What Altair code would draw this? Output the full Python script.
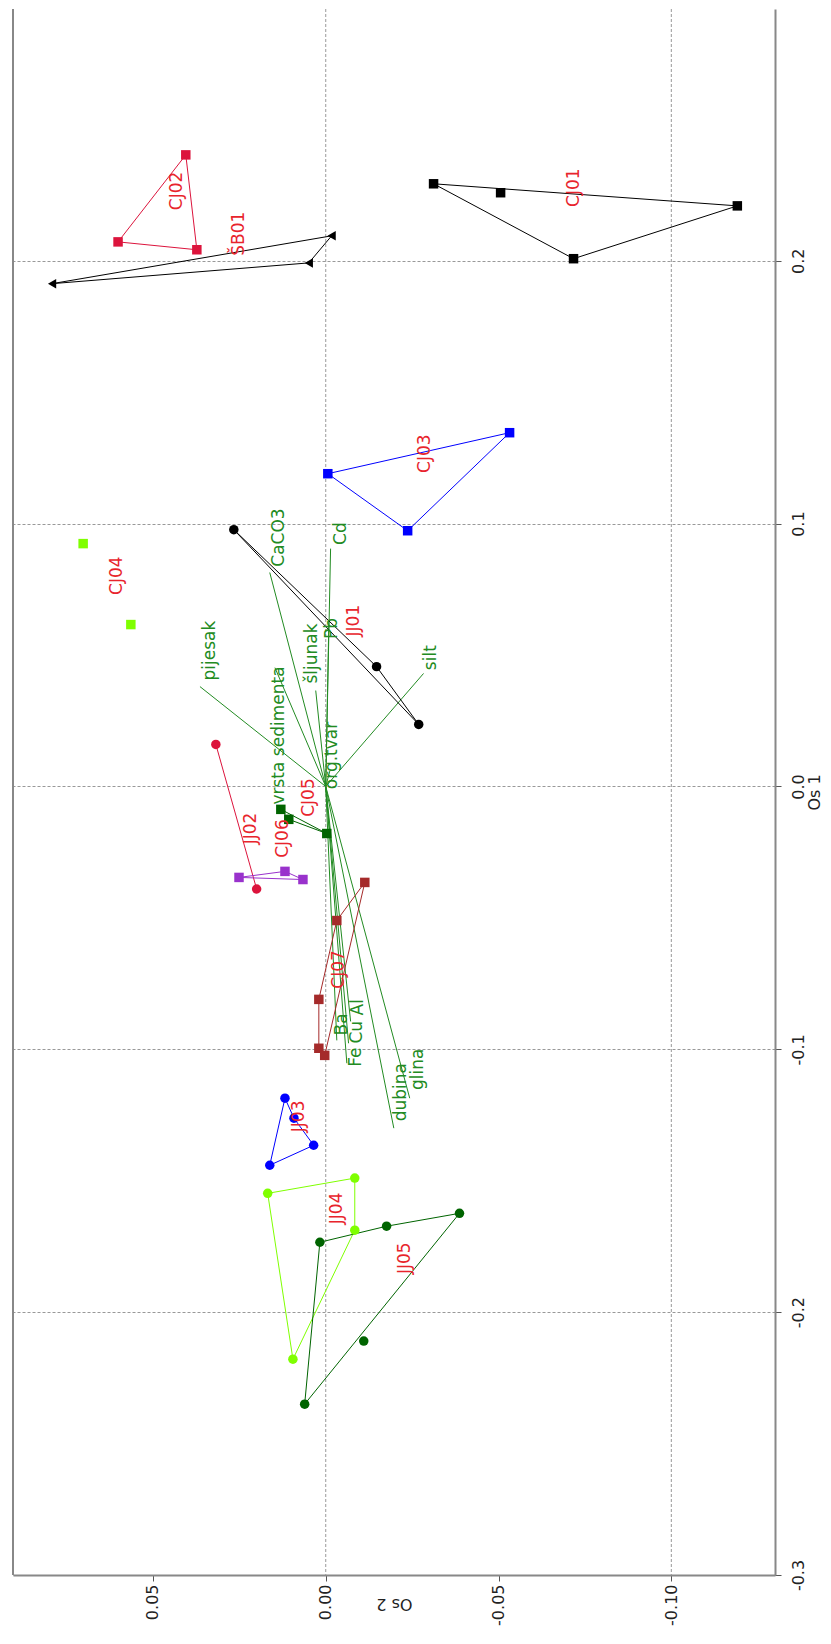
import altair as alt
import pandas as pd

# ---------------- data ----------------
groups = ["CJ01", "CJ02", "ŠB01", "CJ03", "JJ01", "CJ04", "CJ05",
          "JJ02", "CJ06", "CJ07", "JJ03", "JJ04", "JJ05"]
group_colors = ["#000000", "#DC143C", "#000000", "#0000FF", "#000000", "#7FFF00", "#006400",
                "#DC143C", "#9932CC", "#A52A2A", "#0000FF", "#7FFF00", "#006400"]
group_shapes = ["square", "square", "triangle-left", "square", "circle", "square", "square",
                "circle", "square", "square", "circle", "circle", "circle"]

# sample scores: Os 2 (axis 2) and Os 1 (axis 1) per group
os2_pts = {
    "CJ01": [-0.0312, -0.0506, -0.1191, -0.0717],
    "CJ02": [0.0405, 0.0601, 0.0373],
    "ŠB01": [-0.0017, 0.0049, 0.0792],
    "CJ03": [-0.0006, -0.0237, -0.0532],
    "JJ01": [0.0266, -0.0147, -0.0269],
    "CJ04": [0.0702, 0.0564],
    "CJ05": [0.0130, 0.0107, -0.0003],
    "JJ02": [0.0318, 0.0200],
    "CJ06": [0.0251, 0.0118, 0.0066],
    "CJ07": [-0.0113, -0.0032, 0.0020, 0.0020, 0.0003],
    "JJ03": [0.0118, 0.0092, 0.0035, 0.0162],
    "JJ04": [0.0168, -0.0084, -0.0084, 0.0095],
    "JJ05": [-0.0387, -0.0176, 0.0017, -0.0110, 0.0061],
}
os1_pts = {
    "CJ01": [0.2293, 0.2259, 0.2209, 0.2008],
    "CJ02": [0.2403, 0.2072, 0.2042],
    "ŠB01": [0.2095, 0.1992, 0.1913],
    "CJ03": [0.1190, 0.0973, 0.1346],
    "JJ01": [0.0977, 0.0456, 0.0236],
    "CJ04": [0.0924, 0.0616],
    "CJ05": [-0.0087, -0.0125, -0.0179],
    "JJ02": [0.0160, -0.0390],
    "CJ06": [-0.0346, -0.0323, -0.0354],
    "CJ07": [-0.0365, -0.0510, -0.0810, -0.0996, -0.1023],
    "JJ03": [-0.1186, -0.1262, -0.1365, -0.1441],
    "JJ04": [-0.1548, -0.1490, -0.1688, -0.2179],
    "JJ05": [-0.1624, -0.1673, -0.1734, -0.2110, -0.2350],
}
# envelope (hull) drawing order, indices into each group's points
hull_order = {
    "CJ01": [0, 2, 3, 0],
    "CJ02": [0, 1, 2, 0],
    "ŠB01": [2, 0, 1, 2],
    "CJ03": [0, 2, 1, 0],
    "JJ01": [0, 1, 2, 0],
    "CJ04": [],
    "CJ05": [0, 1, 2, 0],
    "JJ02": [0, 1],
    "CJ06": [0, 1, 2, 0],
    "CJ07": [2, 1, 0, 4, 3, 2],
    "JJ03": [3, 0, 1, 2, 3],
    "JJ04": [0, 1, 2, 3, 0],
    "JJ05": [4, 2, 1, 0, 4],
}
# group label positions (Os 2, Os 1)
label_os2 = [-0.0717, 0.0431, 0.0251, -0.0286, -0.0081, 0.0604, 0.0049,
             0.0217, 0.0124, -0.0038, 0.0078, -0.0032, -0.0228]
label_os1 = [0.2278, 0.2266, 0.2103, 0.1266, 0.0631, 0.0802, -0.0042,
             -0.0160, -0.0198, -0.0696, -0.1255, -0.1605, -0.1795]

# environmental variables (biplot arrows from origin)
env_names = ["CaCO3", "Cd", "Pb", "šljunak", "pijesak", "vrsta sedimenta", "silt",
             "org.tvar", "Ba", "Al", "Cu", "Fe", "dubina", "glina"]
env_os2 = [0.0162, -0.0014, -0.0009, 0.0029, 0.0364, 0.0147, -0.0283,
           -0.0012, -0.0032, -0.0072, -0.0066, -0.0061, -0.0197, -0.0243]
env_os1 = [0.0814, 0.0905, 0.0631, 0.0365, 0.0380, 0.0452, 0.0430,
           0.0060, -0.0966, -0.0894, -0.0977, -0.1053, -0.1300, -0.1186]
env_lab_os2 = [0.0136, -0.0043, -0.0017, 0.0040, 0.0335, 0.0136, -0.0306,
               -0.0017, -0.0046, -0.0092, -0.0090, -0.0088, -0.0217, -0.0266]
env_lab_os1 = [0.0947, 0.0962, 0.0601, 0.0506, 0.0517, 0.0194, 0.0490,
               0.0118, -0.0905, -0.0840, -0.0935, -0.1030, -0.1163, -0.1076]

x_ticks = [0.05, 0.0, -0.05, -0.10]
y_ticks = [0.2, 0.1, 0.0, -0.1, -0.2, -0.3]
x_grid = [0.0, -0.10]

# ---------------- tables ----------------
pts_rows, line_rows = [], []
for g in groups:
    for a, b in zip(os2_pts[g], os1_pts[g]):
        pts_rows.append({"group": g, "os2": a, "os1": b})
    for k, i in enumerate(hull_order[g]):
        line_rows.append({"group": g, "os2": os2_pts[g][i], "os1": os1_pts[g][i], "ord": k})
pts = pd.DataFrame(pts_rows)
lines = pd.DataFrame(line_rows)
labels = pd.DataFrame({"group": groups, "os2": label_os2, "os1": label_os1})
env = pd.DataFrame({"name": env_names, "os2": env_os2, "os1": env_os1,
                    "lx": env_lab_os2, "ly": env_lab_os1, "zero": 0.0})
grid = pd.DataFrame({"g": x_grid})

FONT = "DejaVu Sans"
MINUS_FIX = "replace(datum.label, '\u2212', '-')"
xscale = alt.Scale(domain=[0.0905, -0.130], nice=False, zero=False)
yscale = alt.Scale(domain=[-0.3, 0.2958], nice=False, zero=False)
color = alt.Color("group:N", scale=alt.Scale(domain=groups, range=group_colors), legend=None)
shape = alt.Shape("group:N", scale=alt.Scale(domain=groups, range=group_shapes), legend=None)

xax = alt.Axis(values=x_ticks, format=".2f", labelExpr=MINUS_FIX, labelAngle=270, grid=False,
               title="Os 2", titleAngle=180, titleBaseline="middle", titleY=28,
               titleFontWeight="normal",
               labelFontSize=16, titleFontSize=16, labelFont=FONT, titleFont=FONT,
               tickSize=6, labelPadding=3, domain=True, domainColor="#888", domainWidth=2,
               ticks=True, tickColor="#555",
               labelColor="#222", titleColor="#222")
yax = alt.Axis(values=y_ticks, format=".1f", labelExpr=MINUS_FIX, orient="right", labelAngle=270,
               labelAlign="center", labelBaseline="top", grid=True, gridDash=[3, 2],
               gridColor="#999", gridWidth=1, title="Os 1", titleAngle=270,
               titleBaseline="middle", titleX=39, titleFontWeight="normal",
               labelFontSize=16, titleFontSize=16, labelFont=FONT, titleFont=FONT,
               tickSize=6, labelPadding=9, domain=True, domainColor="#888", domainWidth=2,
               tickColor="#555", labelColor="#222", titleColor="#222")


def X(field):
    return alt.X(field, type="quantitative", scale=xscale, axis=xax)


def Y(field):
    return alt.Y(field, type="quantitative", scale=yscale, axis=yax)


gridlines = alt.Chart(grid).mark_rule(color="#999", strokeDash=[3, 2], strokeWidth=1).encode(
    x=X("g"))

left_edge = alt.Chart(grid).mark_rule(color="#888", strokeWidth=2).encode(
    x=alt.value(0), y=alt.value(0), y2=alt.value(1566))

env_lines = alt.Chart(env).mark_rule(color="#228B22", strokeWidth=1).encode(
    x=X("zero"), y=Y("zero"), x2="os2:Q", y2="os1:Q")

hulls = alt.Chart(lines).mark_line(strokeWidth=1).encode(
    x=X("os2"), y=Y("os1"), color=color, detail="group:N", order="ord:Q")

points = alt.Chart(pts).mark_point(filled=True, opacity=1, size=90).encode(
    x=X("os2"), y=Y("os1"), color=color, shape=shape)

group_text = alt.Chart(labels).mark_text(angle=270, align="center", baseline="middle",
                                         font=FONT, fontSize=17, color="#E8242C").encode(
    x=X("os2"), y=Y("os1"), text="group:N")

env_text = alt.Chart(env).mark_text(angle=270, align="center", baseline="middle",
                                    font=FONT, fontSize=17, color="#228B22").encode(
    x=X("lx"), y=Y("ly"), text="name:N")

chart = alt.layer(gridlines, left_edge, env_lines, hulls, points, env_text, group_text).properties(
    width=762, height=1566,
    padding={"left": 4, "top": 0, "right": 0, "bottom": 0},
    background="white",
).configure_view(stroke=None)

chart.save("out.html", embed_options={"renderer": "svg", "actions": False})
